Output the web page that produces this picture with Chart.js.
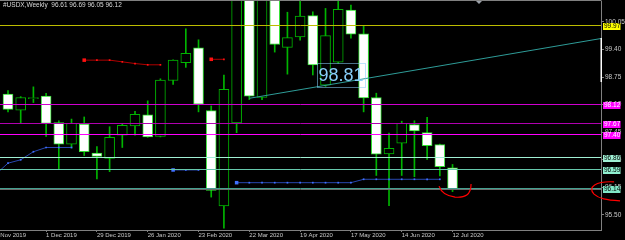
<!DOCTYPE html>
<html>
<head>
<meta charset="utf-8">
<script src="https://cdn.jsdelivr.net/npm/chart.js@4.4.1/dist/chart.umd.min.js"></script>
<style>
  html, body { margin: 0; padding: 0; background: #000; }
  #wrap { width: 625px; height: 240px; }
</style>
</head>
<body>
<div id="wrap"><canvas id="usdx" width="625" height="240"></canvas></div>
<script>
// weekly USDX bars. slot 0 is the week of 3 Nov 2019 (just off the left edge, no candle)
const opens  = [null, 98.35, 97.97, 98.24, 98.30, 97.68, 97.17, 97.64, 96.96, 96.83, 97.38, 97.60, 97.86, 97.35, 98.67, 99.09, 99.44, 97.96, 95.71, 97.67, 102.80, 98.27, 100.65, 99.45, 99.70, 100.20, 98.56, 99.10, 100.33, 99.77, 98.27, 96.94, 97.19, 97.63, 97.44, 97.16, 96.61];
const highs  = [null, 98.43, 98.29, 98.52, 98.37, 97.72, 97.76, 97.81, 97.11, 97.58, 97.66, 97.94, 98.19, 98.71, 99.16, 99.89, 99.63, 98.07, 98.80, 102.99, 103.00, 101.00, 100.90, 100.28, 100.90, 100.29, 100.37, 100.60, 100.45, 99.97, 98.37, 97.43, 97.71, 97.72, 97.80, 97.17, 96.69];
const lows   = [null, 97.93, 97.66, 98.15, 97.35, 96.58, 97.08, 96.90, 96.35, 96.52, 97.09, 97.38, 97.33, 97.34, 98.58, 98.98, 97.93, 95.92, 95.19, 97.44, 98.22, 98.22, 99.34, 98.82, 99.62, 98.80, 98.53, 99.08, 99.67, 97.93, 96.43, 95.72, 96.43, 96.40, 96.81, 96.42, 96.05];
const closes = [null, 97.99, 98.27, 98.265, 97.66, 97.17, 97.66, 96.99, 96.88, 97.33, 97.61, 97.87, 97.34, 98.68, 99.15, 99.31, 98.11, 96.08, 98.46, 102.80, 98.30, 100.65, 99.52, 99.68, 100.19, 99.04, 99.73, 100.35, 99.76, 98.26, 96.93, 97.07, 97.66, 97.48, 97.13, 96.64, 96.12];

// stop indicator (blue below price, red above)
const blueStop = [96.45, 96.72, 96.80, 96.99, 97.09, 97.09, 97.09, null, null, null, null, null, null, null, 96.56, 96.56, 96.56, null, null, 96.26, 96.26, 96.26, 96.26, 96.26, 96.26, 96.26, 96.26, 96.26, 96.26, 96.34, 96.34, 96.34, 96.34, 96.34, 96.34, 96.34, null];
const redStop  = [null, null, null, null, null, null, null, 99.15, 99.15, 99.15, 99.11, 99.07, 99.04, 99.04, null, null, null, 99.17, 99.17, null, null, null, null, null, null, null, null, null, null, null, null, null, null, null, null, null, null];

// horizontal levels drawn on the chart
const levels = [99.97, 98.12, 97.67, 97.40, 96.86, 96.59, 96.14];
const levelColors = ['#bcbc00', '#d000d0', '#b000b0', '#ff00ff', '#a0f0d4', '#66c8ac', '#44a090'];
const levelLabelBg = ['#ffff00', '#ff00ff', '#ff00ff', '#ff00ff', '#9ff0d4', '#8ff0d0', '#80e8c8'];
const levelLabelFg = ['#000000', '#ffffff', '#ffffff', '#ffffff', '#000000', '#000000', '#000000'];

// trend line anchors [slot, price], extended to the right edge
const trendSlots = [20.0, 47.69];
const trendPrices = [98.25, 99.66];

const noteValue = 98.81;
const noteSlot = 25.33;

const yTicks = [95.50, 96.15, 96.80, 97.45, 98.10, 98.75, 99.40, 100.05];
const xTickSlots = [0, 4, 8, 12, 16, 20, 24, 28, 32, 36];
const xTickLabels = ['3 Nov 2019', '1 Dec 2019', '29 Dec 2019', '26 Jan 2020', '23 Feb 2020', '22 Mar 2020', '19 Apr 2020', '17 May 2020', '14 Jun 2020', '12 Jul 2020'];

const X_MIN = 0.37, X_MAX = 47.69;
const Y_MIN = 95.144, Y_MAX = 100.545;
const FONT = "'Liberation Sans Narrow', 'Liberation Sans', Arial, sans-serif";

const last = opens.length - 1;
const title = `#USDX,Weekly  ${opens[last].toFixed(2)} ${highs[last].toFixed(2)} ${lows[last].toFixed(2)} ${closes[last].toFixed(2)}`;

const slots = opens.map((_, i) => i).filter(i => opens[i] != null);
const isUp = i => closes[i] >= opens[i];

const datasets = [];

// wicks
datasets.push({
  type: 'bar', order: 6,
  data: slots.map(i => ({ x: i, y: [lows[i], highs[i]] })),
  backgroundColor: '#00b400', borderWidth: 0,
  barThickness: 1, grouped: false, clip: 0
});

// bodies
datasets.push({
  type: 'bar', order: 5,
  data: slots.map(i => ({ x: i, y: [opens[i], closes[i]] })),
  backgroundColor: c => isUp(c.raw.x) ? '#000000' : '#ffffff',
  borderColor: c => isUp(c.raw.x) ? '#00b400' : '#30e030',
  borderWidth: 1, borderSkipped: false,
  barThickness: 10, grouped: false, clip: 0
});

// trend line
datasets.push({
  type: 'line', order: 3,
  data: trendSlots.map((s, k) => ({ x: s, y: trendPrices[k] })),
  borderColor: '#2e9c98', borderWidth: 1, pointRadius: 0, clip: 0
});

function stopSet(values, line, dot) {
  return {
    type: 'line', order: 2,
    data: values.map((v, i) => ({ x: i, y: v })),
    spanGaps: false,
    borderColor: line, borderWidth: 1,
    pointStyle: 'rect',
    pointRadius: c => (c.dataIndex > 0 && values[c.dataIndex - 1] == null) ? 2.5 : 1.2,
    pointBackgroundColor: dot, pointBorderWidth: 0,
    clip: 0
  };
}
datasets.push(stopSet(blueStop, '#2848b0', '#4070ff'));
datasets.push(stopSet(redStop, '#b00000', '#ff1010'));

// level lines, drawn over the candles and snapped to whole pixels
const levelLines = {
  id: 'levelLines',
  afterDatasetsDraw(chart) {
    const { ctx, chartArea: a, scales: { y } } = chart;
    ctx.save();
    ctx.lineWidth = 1;
    const hline = (v, color) => {
      const py = Math.round(y.getPixelForValue(v)) + 0.5;
      ctx.strokeStyle = color;
      ctx.beginPath();
      ctx.moveTo(a.left, py);
      ctx.lineTo(a.right, py);
      ctx.stroke();
    };
    hline(closes[last], '#6c6c6c');
    levels.forEach((v, k) => hline(v, levelColors[k]));
    ctx.restore();
  }
};

const overlay = {
  id: 'overlay',
  afterDraw(chart) {
    const { ctx, chartArea: a, scales: { x, y } } = chart;
    ctx.save();

    // frame
    ctx.strokeStyle = '#808080';
    ctx.lineWidth = 1;
    ctx.beginPath();
    ctx.moveTo(0, 0.5);
    ctx.lineTo(a.right + 0.5, 0.5);
    ctx.stroke();
    ctx.fillStyle = '#ffffff';
    ctx.fillRect(a.right - 0.5, 38, 1.5, 44);

    // shift marker
    ctx.fillStyle = '#9aa0a8';
    ctx.beginPath();
    ctx.moveTo(476, 1); ctx.lineTo(482, 1); ctx.lineTo(479, 4); ctx.closePath();
    ctx.fill();

    // title
    ctx.font = `6.5px ${FONT}`;
    ctx.fillStyle = '#d8d8d8';
    ctx.textBaseline = 'middle';
    ctx.textAlign = 'left';
    ctx.fillText(title, 3, 5.5);

    // level price tags
    levels.forEach((v, k) => {
      const py = Math.round(y.getPixelForValue(v));
      ctx.fillStyle = levelLabelBg[k];
      ctx.fillRect(603, py - 2, 17.5, 7);
      ctx.fillStyle = levelLabelFg[k];
      ctx.fillText(v.toFixed(2), 604, py + 1.6);
    });

    // big note
    const nx = x.getPixelForValue(noteSlot);
    const ny = y.getPixelForValue(noteValue);
    ctx.font = `18px 'Liberation Sans', Arial, sans-serif`;
    const w = ctx.measureText(noteValue.toFixed(2)).width;
    ctx.strokeStyle = 'rgba(135,206,250,0.55)';
    ctx.strokeRect(Math.round(nx) + 0.5, Math.round(ny - 12) + 0.5, Math.round(w + 3), 24);
    ctx.fillStyle = '#87cefa';
    ctx.fillText(noteValue.toFixed(2), nx + 1.5, ny + 1);

    // hand drawn red marks
    const P = (s, v) => [x.getPixelForValue(s), y.getPixelForValue(v)];
    ctx.strokeStyle = '#ff0000';
    ctx.lineWidth = 1.2;
    ctx.beginPath();
    ctx.moveTo(...P(34.94, 96.18));
    ctx.bezierCurveTo(...P(35.09, 96.04), ...P(35.49, 95.95), ...P(36.20, 95.92));
    ctx.bezierCurveTo(...P(36.98, 95.90), ...P(37.46, 95.97), ...P(37.46, 96.23));
    ctx.stroke();
    ctx.beginPath();
    ctx.moveTo(...P(48.72, 96.28));
    ctx.bezierCurveTo(...P(47.30, 96.30), ...P(46.59, 96.16), ...P(47.14, 95.99));
    ctx.bezierCurveTo(...P(47.54, 95.88), ...P(48.09, 95.85), ...P(49.19, 95.83));
    ctx.stroke();

    ctx.restore();
  }
};

new Chart(document.getElementById('usdx'), {
  type: 'bar',
  data: { datasets },
  options: {
    responsive: false,
    animation: false,
    events: [],
    layout: { autoPadding: false, padding: { top: 1, left: 0, right: 0, bottom: 0 } },
    plugins: { legend: { display: false }, tooltip: { enabled: false } },
    scales: {
      x: {
        type: 'linear', min: X_MIN, max: X_MAX, offset: false,
        afterBuildTicks: s => { s.ticks = xTickSlots.map(v => ({ value: v })); },
        afterFit: s => { s.height = 10; s.paddingLeft = 0; s.paddingRight = 0; },
        grid: { drawOnChartArea: false, tickLength: 2, color: '#808080', offset: false },
        border: { display: true, color: '#808080' },
        ticks: {
          autoSkip: false, maxRotation: 0, minRotation: 0, align: 'start', padding: 0,
          color: '#c8c8c8', font: { family: FONT, size: 6 },
          callback: (v, i) => xTickLabels[i]
        }
      },
      y: {
        position: 'right', min: Y_MIN, max: Y_MAX,
        afterBuildTicks: s => { s.ticks = yTicks.map(v => ({ value: v })); },
        afterFit: s => { s.width = 24; s.paddingTop = 0; s.paddingBottom = 0; },
        grid: { drawOnChartArea: false, tickLength: 3, color: '#808080' },
        border: { display: true, color: '#808080' },
        ticks: {
          padding: 1, color: '#c8c8c8', font: { family: FONT, size: 6.5 },
          callback: v => Number(v).toFixed(2)
        }
      }
    }
  },
  plugins: [levelLines, overlay]
});
</script>
</body>
</html>
